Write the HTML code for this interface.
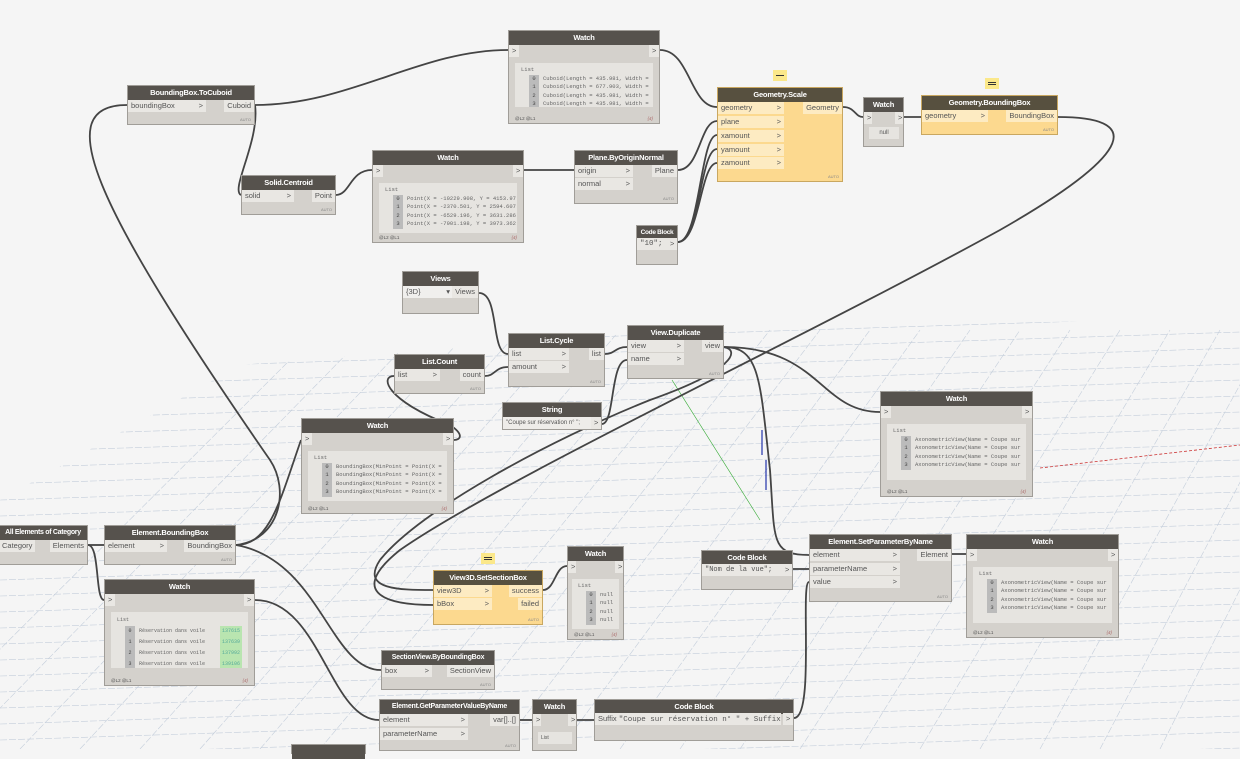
<!DOCTYPE html>
<html><head><meta charset="utf-8"><style>
body{margin:0;width:1240px;height:749px;overflow:hidden;background:#f5f5f5;font-family:"Liberation Sans",sans-serif;position:relative}
.n{position:absolute;background:#d4d1cc;border:1px solid #a09d98;box-sizing:border-box}
.o{background:#fcd98f;border-color:#c9a760}
.h{height:14px;background:#56524d;color:#fff;font-weight:bold;font-size:7.5px;text-align:center;line-height:14px;white-space:nowrap;overflow:hidden;letter-spacing:-0.2px}
.r{position:absolute;height:12px;line-height:12px;font-size:7.5px;color:#555;background:#e9e7e3;padding:0 3px;box-sizing:border-box;white-space:nowrap;overflow:hidden}
.o .r{background:#fdebc2}
.a{position:absolute;font-size:4px;color:#888;right:3px;bottom:2px}
.wl{position:absolute;left:6px;right:6px;background:#e6e4e0;font-family:"Liberation Mono",monospace;font-size:5.5px;color:#666;line-height:8.5px;padding:3px 6px;white-space:nowrap;overflow:hidden}
.ft{position:absolute;left:6px;right:6px;bottom:2px;font-size:4.5px;color:#555}
.ft span{float:right;font-style:italic;color:#a66}
.ix{display:inline-block;background:#bbb;width:10px;margin:0 4px 0 8px;text-align:center;color:#444}
.g{background:#b9e5b0;color:#5a9;padding:0 2px;float:right}
</style></head><body>
<svg width="1240" height="749" style="position:absolute;left:0;top:0">
<defs><clipPath id="c"><path d="M0 500 L240 365 L740 325 L1240 320 L1240 749 L0 749 Z"/></clipPath></defs>
<g clip-path="url(#c)" stroke="#c4cedb" stroke-width="0.6" fill="none" stroke-dasharray="7 2">
<path d="M0 340 L1240 300 M0 356 L1240 316 M0 372 L1240 332 M0 388 L1240 348 M0 404 L1240 364 M0 420 L1240 380 M0 436 L1240 396 M0 452 L1240 412 M0 468 L1240 428 M0 484 L1240 444 M0 500 L1240 460 M0 516 L1240 476 M0 532 L1240 492 M0 548 L1240 508 M0 564 L1240 524 M0 580 L1240 540 M0 596 L1240 556 M0 612 L1240 572 M0 628 L1240 588 M0 644 L1240 604 M0 660 L1240 620 M0 676 L1240 636 M0 692 L1240 652 M0 708 L1240 668 M0 724 L1240 684 M0 740 L1240 700 M0 756 L1240 716 M0 772 L1240 732 M0 788 L1240 748"/>
<path d="M-100 749 L320 330 M-40 749 L370 330 M20 749 L420 330 M80 749 L470 330 M140 749 L520 330 M200 749 L570 330 M260 749 L620 330 M320 749 L670 330 M380 749 L720 330 M440 749 L770 330 M500 749 L820 330 M560 749 L870 330 M620 749 L920 330 M680 749 L970 330 M740 749 L1020 330 M800 749 L1070 330 M860 749 L1120 330 M920 749 L1170 330 M980 749 L1220 330 M1040 749 L1270 330 M1100 749 L1320 330 M1160 749 L1370 330"/>
</g>
<path d="M1040 468 L1240 445" stroke="#c33" stroke-width="0.8" stroke-dasharray="3 2"/>
<path d="M672 380 L760 520" stroke="#3a3" stroke-width="0.6"/>
<path d="M762 430 L762 455 M766 460 L766 490" stroke="#23a" stroke-width="1.2"/>
<g stroke="#444" stroke-width="1.8" fill="none">
<path d="M255 105 C 350 105, 420 50, 508 50"/>
<path d="M660 50 C 690 50, 690 107, 717 107"/>
<path d="M255 105 C 260 140, 230 190, 241 195"/>
<path d="M127 105 C 50 105, 90 200, 270 460 C 290 490, 280 540, 236 545"/>
<path d="M336 195 C 350 195, 350 170, 372 170"/>
<path d="M524 170 L574 170"/>
<path d="M678 170 C 700 170, 700 121, 717 121"/>
<path d="M678 242 C 700 242, 700 135, 717 135"/>
<path d="M678 242 C 700 242, 700 149, 717 149"/>
<path d="M678 242 C 700 242, 700 163, 717 163"/>
<path d="M843 107 C 855 107, 855 117, 863 117"/>
<path d="M904 117 L921 117"/>
<path d="M1058 117 C 1140 117, 1140 150, 1000 230 C 800 340, 500 480, 400 550 C 350 590, 380 605, 433 605"/>
<path d="M479 293 C 500 293, 490 354, 508 354"/>
<path d="M485 376 C 495 376, 495 367, 508 367"/>
<path d="M605 354 C 615 354, 615 347, 627 347"/>
<path d="M602 424 C 615 424, 610 360, 627 360"/>
<path d="M724 347 C 760 347, 760 380, 770 470 C 775 540, 770 555, 809 555"/>
<path d="M724 347 C 820 347, 820 412, 880 412"/>
<path d="M724 347 C 740 350, 735 370, 650 400 C 550 440, 420 510, 380 560 C 360 590, 400 590, 433 590"/>
<path d="M394 376 C 380 376, 385 400, 450 425 C 465 435, 460 440, 454 440"/>
<path d="M236 545 C 270 545, 280 500, 301 440"/>
<path d="M88 545 C 100 545, 95 600, 104 600"/>
<path d="M88 545 L104 545"/>
<path d="M236 545 C 320 560, 330 670, 381 670"/>
<path d="M255 600 C 320 600, 330 720, 379 720"/>
<path d="M543 590 C 555 590, 555 566, 567 566"/>
<path d="M793 569 L809 569"/>
<path d="M952 554 L966 554"/>
<path d="M794 718 C 815 718, 800 582, 809 582"/>
<path d="M520 720 L532 720"/>
<path d="M577 720 L594 720"/>
</g>
</svg>

<div class="n" style="left:508px;top:30px;width:152px;height:94px"><div class="h">Watch</div><div class="r" style="left:0;top:14px;width:10px">&gt;</div><div class="r" style="right:0;top:14px;width:10px">&gt;</div>
<div class="wl" style="top:32px;height:38px">List<br><span class="ix">0</span>Cuboid(Length = 435.981, Width =<br><span class="ix">1</span>Cuboid(Length = 677.903, Width =<br><span class="ix">2</span>Cuboid(Length = 435.981, Width =<br><span class="ix">3</span>Cuboid(Length = 435.981, Width =</div><div class="ft">@L2 @L1<span>{4}</span></div></div>

<div class="n" style="left:127px;top:85px;width:128px;height:40px"><div class="h">BoundingBox.ToCuboid</div><div class="r" style="left:0;top:14px;width:78px">boundingBox<span style="float:right">&gt;</span></div><div class="r" style="right:0;top:14px">Cuboid</div><div class="a">AUTO</div></div>

<div class="n" style="left:241px;top:175px;width:95px;height:40px"><div class="h">Solid.Centroid</div><div class="r" style="left:0;top:14px;width:52px">solid<span style="float:right">&gt;</span></div><div class="r" style="right:0;top:14px">Point</div><div class="a">AUTO</div></div>

<div class="n" style="left:372px;top:150px;width:152px;height:93px"><div class="h">Watch</div><div class="r" style="left:0;top:14px;width:10px">&gt;</div><div class="r" style="right:0;top:14px;width:10px">&gt;</div>
<div class="wl" style="top:32px;height:44px">List<br><span class="ix">0</span>Point(X = -10229.908, Y = 4153.97<br><span class="ix">1</span>Point(X = -2370.501, Y = 2594.607<br><span class="ix">2</span>Point(X = -6529.196, Y = 3631.286<br><span class="ix">3</span>Point(X = -7901.198, Y = 3973.362</div><div class="ft">@L2 @L1<span>{4}</span></div></div>

<div class="n" style="left:574px;top:150px;width:104px;height:54px"><div class="h">Plane.ByOriginNormal</div><div class="r" style="left:0;top:14px;width:58px">origin<span style="float:right">&gt;</span></div><div class="r" style="left:0;top:27px;width:58px">normal<span style="float:right">&gt;</span></div><div class="r" style="right:0;top:14px">Plane</div><div class="a">AUTO</div></div>

<div class="n" style="left:636px;top:225px;width:42px;height:40px"><div class="h" style="font-size:6.5px;letter-spacing:-0.3px">Code Block</div><div class="r" style="left:0;top:12px;width:30px;font-family:'Liberation Mono',monospace">"10";</div><div class="r" style="right:0;top:12px;width:10px">&gt;</div></div>

<div style="position:absolute;left:773px;top:70px;width:14px;height:11px;background:#fbe88a"><div style="margin:5px 3px;height:1px;background:#333"></div></div>
<div class="n o" style="left:717px;top:87px;width:126px;height:95px"><div class="h" style="background:#57503f">Geometry.Scale</div>
<div class="r" style="left:0;top:14px;width:66px">geometry<span style="float:right">&gt;</span></div>
<div class="r" style="left:0;top:28px;width:66px">plane<span style="float:right">&gt;</span></div>
<div class="r" style="left:0;top:42px;width:66px">xamount<span style="float:right">&gt;</span></div>
<div class="r" style="left:0;top:56px;width:66px">yamount<span style="float:right">&gt;</span></div>
<div class="r" style="left:0;top:69px;width:66px">zamount<span style="float:right">&gt;</span></div>
<div class="r" style="right:0;top:14px">Geometry</div><div class="a">AUTO</div></div>

<div class="n" style="left:863px;top:97px;width:41px;height:50px"><div class="h">Watch</div><div class="r" style="left:0;top:14px;width:8px">&gt;</div><div class="r" style="right:0;top:14px;width:8px">&gt;</div><div class="r" style="left:5px;top:29px;width:30px;background:#e6e4e0;text-align:center;font-size:6px">null</div></div>

<div style="position:absolute;left:985px;top:78px;width:14px;height:11px;background:#fbe88a"><div style="margin:4px 3px 1px;height:1px;background:#333"></div><div style="margin:0 3px;height:1px;background:#333"></div></div>
<div class="n o" style="left:921px;top:95px;width:137px;height:40px"><div class="h" style="background:#57503f">Geometry.BoundingBox</div><div class="r" style="left:0;top:14px;width:66px">geometry<span style="float:right">&gt;</span></div><div class="r" style="right:0;top:14px">BoundingBox</div><div class="a">AUTO</div></div>

<div class="n" style="left:402px;top:271px;width:77px;height:43px"><div class="h">Views</div><div class="r" style="left:0;top:14px;width:50px;background:#f0efed">{3D}<span style="float:right">▾</span></div><div class="r" style="right:0;top:14px">Views</div></div>

<div class="n" style="left:508px;top:333px;width:97px;height:54px"><div class="h">List.Cycle</div><div class="r" style="left:0;top:14px;width:60px">list<span style="float:right">&gt;</span></div><div class="r" style="left:0;top:27px;width:60px">amount<span style="float:right">&gt;</span></div><div class="r" style="right:0;top:14px">list</div><div class="a">AUTO</div></div>

<div class="n" style="left:627px;top:325px;width:97px;height:54px"><div class="h">View.Duplicate</div><div class="r" style="left:0;top:14px;width:56px">view<span style="float:right">&gt;</span></div><div class="r" style="left:0;top:27px;width:56px">name<span style="float:right">&gt;</span></div><div class="r" style="right:0;top:14px">view</div><div class="a">AUTO</div></div>

<div class="n" style="left:394px;top:354px;width:91px;height:40px"><div class="h">List.Count</div><div class="r" style="left:0;top:14px;width:45px">list<span style="float:right">&gt;</span></div><div class="r" style="right:0;top:14px">count</div><div class="a">AUTO</div></div>

<div class="n" style="left:502px;top:402px;width:100px;height:28px"><div class="h">String</div><div class="r" style="left:0;top:14px;width:88px;background:#eeece9;font-size:6px">"Coupe sur réservation n° ";</div><div class="r" style="right:0;top:14px;width:10px">&gt;</div></div>

<div class="n" style="left:301px;top:418px;width:153px;height:96px"><div class="h">Watch</div><div class="r" style="left:0;top:14px;width:10px">&gt;</div><div class="r" style="right:0;top:14px;width:10px">&gt;</div>
<div class="wl" style="top:32px;height:44px">List<br><span class="ix">0</span>BoundingBox(MinPoint = Point(X =<br><span class="ix">1</span>BoundingBox(MinPoint = Point(X =<br><span class="ix">2</span>BoundingBox(MinPoint = Point(X =<br><span class="ix">3</span>BoundingBox(MinPoint = Point(X =</div><div class="ft">@L2 @L1<span>{4}</span></div></div>

<div class="n" style="left:880px;top:391px;width:153px;height:106px"><div class="h">Watch</div><div class="r" style="left:0;top:14px;width:10px">&gt;</div><div class="r" style="right:0;top:14px;width:10px">&gt;</div>
<div class="wl" style="top:32px;height:50px">List<br><span class="ix">0</span>AxonometricView(Name = Coupe sur<br><span class="ix">1</span>AxonometricView(Name = Coupe sur<br><span class="ix">2</span>AxonometricView(Name = Coupe sur<br><span class="ix">3</span>AxonometricView(Name = Coupe sur</div><div class="ft">@L2 @L1<span>{4}</span></div></div>

<div class="n" style="left:-2px;top:525px;width:90px;height:40px"><div class="h" style="font-size:7px;letter-spacing:-0.3px">All Elements of Category</div><div class="r" style="left:0;top:14px">Category</div><div class="r" style="right:0;top:14px">Elements</div></div>

<div class="n" style="left:104px;top:525px;width:132px;height:40px"><div class="h">Element.BoundingBox</div><div class="r" style="left:0;top:14px;width:62px">element<span style="float:right">&gt;</span></div><div class="r" style="right:0;top:14px">BoundingBox</div><div class="a">AUTO</div></div>

<div class="n" style="left:104px;top:579px;width:151px;height:107px"><div class="h">Watch</div><div class="r" style="left:0;top:14px;width:10px">&gt;</div><div class="r" style="right:0;top:14px;width:10px">&gt;</div>
<div class="wl" style="top:32px;height:50px;font-size:5px;line-height:11px">List<br><span class="ix">0</span>Réservation dans voile<span class="g">137615</span><br><span class="ix">1</span>Réservation dans voile<span class="g">137639</span><br><span class="ix">2</span>Réservation dans voile<span class="g">137992</span><br><span class="ix">3</span>Réservation dans voile<span class="g">139106</span></div><div class="ft">@L2 @L1<span>{4}</span></div></div>

<div style="position:absolute;left:481px;top:553px;width:14px;height:11px;background:#fbe88a"><div style="margin:4px 3px 1px;height:1px;background:#333"></div><div style="margin:0 3px;height:1px;background:#333"></div></div>
<div class="n o" style="left:433px;top:570px;width:110px;height:55px"><div class="h" style="background:#57503f">View3D.SetSectionBox</div><div class="r" style="left:0;top:14px;width:58px">view3D<span style="float:right">&gt;</span></div><div class="r" style="left:0;top:27px;width:58px">bBox<span style="float:right">&gt;</span></div><div class="r" style="right:0;top:14px">success</div><div class="r" style="right:0;top:27px">failed</div><div class="a">AUTO</div></div>

<div class="n" style="left:567px;top:546px;width:57px;height:94px"><div class="h">Watch</div><div class="r" style="left:0;top:14px;width:8px">&gt;</div><div class="r" style="right:0;top:14px;width:8px">&gt;</div>
<div class="wl" style="top:32px;height:44px;left:4px;right:4px">List<br><span class="ix">0</span>null<br><span class="ix">1</span>null<br><span class="ix">2</span>null<br><span class="ix">3</span>null</div><div class="ft">@L2 @L1<span>{4}</span></div></div>

<div class="n" style="left:701px;top:550px;width:92px;height:40px"><div class="h">Code Block</div><div class="r" style="left:0;top:13px;width:80px;font-family:'Liberation Mono',monospace;font-size:7px">"Nom de la vue";</div><div class="r" style="right:0;top:13px;width:10px">&gt;</div></div>

<div class="n" style="left:809px;top:534px;width:143px;height:68px"><div class="h">Element.SetParameterByName</div><div class="r" style="left:0;top:14px;width:90px">element<span style="float:right">&gt;</span></div><div class="r" style="left:0;top:28px;width:90px">parameterName<span style="float:right">&gt;</span></div><div class="r" style="left:0;top:41px;width:90px">value<span style="float:right">&gt;</span></div><div class="r" style="right:0;top:14px">Element</div><div class="a">AUTO</div></div>

<div class="n" style="left:966px;top:534px;width:153px;height:104px"><div class="h">Watch</div><div class="r" style="left:0;top:14px;width:10px">&gt;</div><div class="r" style="right:0;top:14px;width:10px">&gt;</div>
<div class="wl" style="top:32px;height:50px">List<br><span class="ix">0</span>AxonometricView(Name = Coupe sur<br><span class="ix">1</span>AxonometricView(Name = Coupe sur<br><span class="ix">2</span>AxonometricView(Name = Coupe sur<br><span class="ix">3</span>AxonometricView(Name = Coupe sur</div><div class="ft">@L2 @L1<span>{4}</span></div></div>

<div class="n" style="left:381px;top:650px;width:114px;height:40px"><div class="h" style="font-size:7px">SectionView.ByBoundingBox</div><div class="r" style="left:0;top:14px;width:50px">box<span style="float:right">&gt;</span></div><div class="r" style="right:0;top:14px">SectionView</div><div class="a">AUTO</div></div>

<div class="n" style="left:379px;top:699px;width:141px;height:52px"><div class="h" style="font-size:7px">Element.GetParameterValueByName</div><div class="r" style="left:0;top:14px;width:88px">element<span style="float:right">&gt;</span></div><div class="r" style="left:0;top:28px;width:88px">parameterName<span style="float:right">&gt;</span></div><div class="r" style="right:0;top:14px">var[]..[]</div><div class="a">AUTO</div></div>

<div class="n" style="left:532px;top:699px;width:45px;height:52px"><div class="h">Watch</div><div class="r" style="left:0;top:14px;width:8px">&gt;</div><div class="r" style="right:0;top:14px;width:8px">&gt;</div><div class="r" style="left:5px;top:32px;width:34px;background:#e6e4e0;font-size:5px">List</div></div>

<div class="n" style="left:594px;top:699px;width:200px;height:42px"><div class="h">Code Block</div><div class="r" style="left:0;top:13px;width:186px;font-size:7.5px">Suffix <span style="font-family:'Liberation Mono',monospace">"Coupe sur réservation n° " + Suffix;</span></div><div class="r" style="right:0;top:13px;width:10px">&gt;</div></div>

<div class="n" style="left:291px;top:744px;width:75px;height:10px"><div class="h"></div></div>
</body></html>
